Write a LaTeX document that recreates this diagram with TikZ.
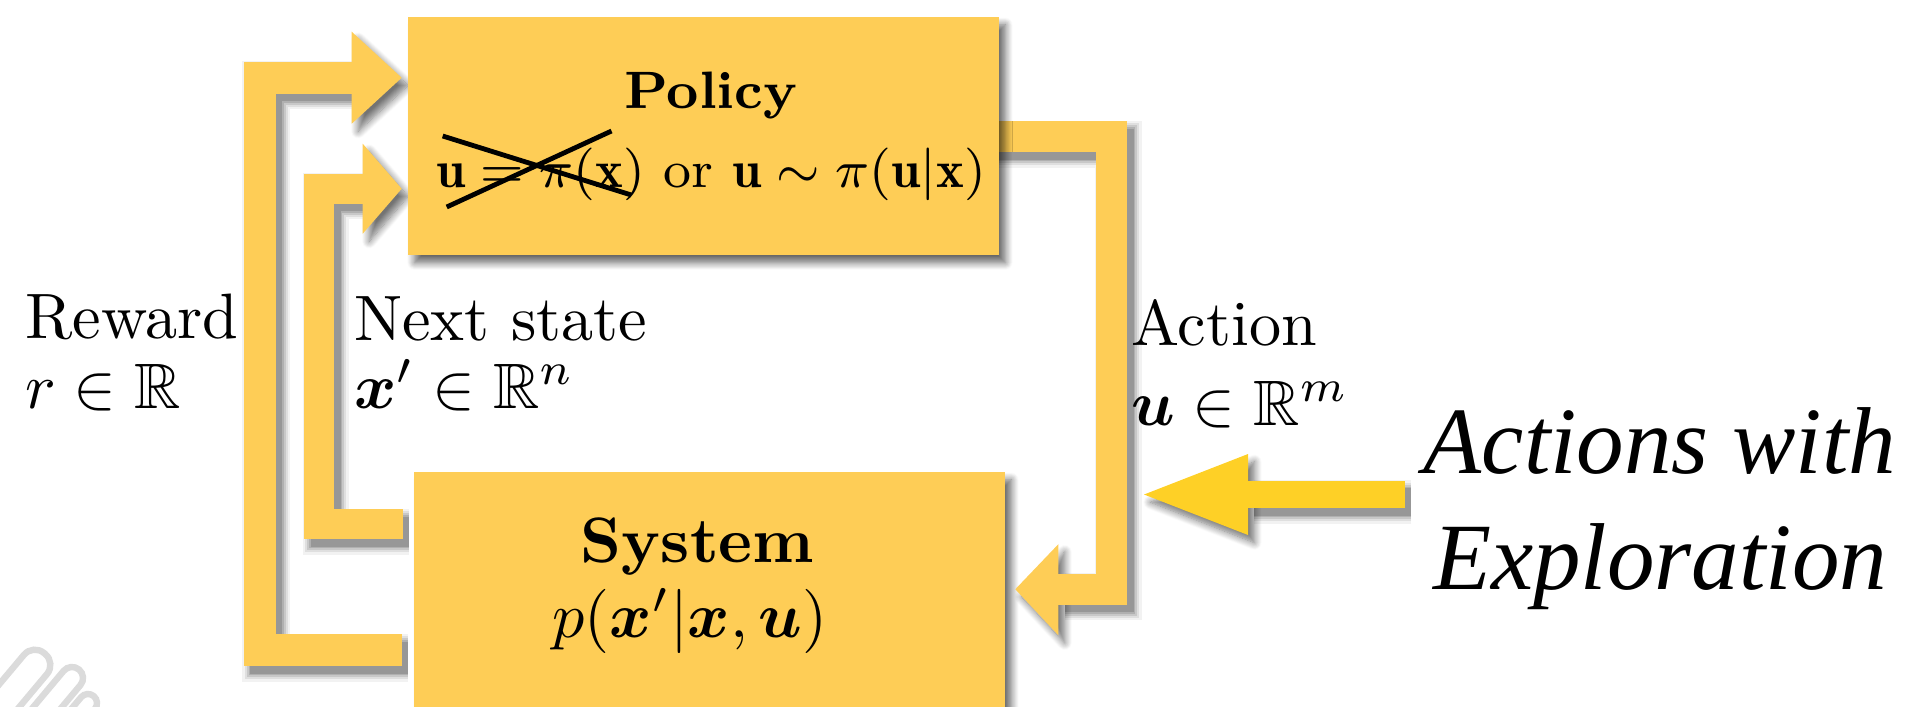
\documentclass[tikz,border=0pt]{standalone}
\usepackage{fix-cm}
\usepackage{amsmath,amssymb,bm}
\usepackage{fontspec}
\newfontfamily\expfont{Liberation Serif}
\usetikzlibrary{calc,shadows.blur}
\newlength\upx
\setlength\upx{0.1558pt}
\definecolor{boxy}{RGB}{254,205,86}
\definecolor{explo}{RGB}{254,208,38}
\newcommand\shadowstroke[2]{%
  \foreach \e/\o in {16/0.05,11/0.08,7/0.1,3/0.12,0/0.14}{%
    \draw[black, opacity=\o, line width={(#1+\e)*\upx}, line join=miter, line cap=butt,
      transform canvas={shift={(1pt,-1.2pt)}}] #2;}}
\tikzset{
  boxsh/.style={blur shadow={shadow xshift=1pt, shadow yshift=-1.2pt,
      shadow blur radius=1.1pt, shadow blur steps=10, shadow opacity=60}},
  blockbox/.style={fill=boxy, inner sep=0pt, boxsh},
  headsh/.style={blur shadow={shadow xshift=1pt, shadow yshift=-1.2pt,
      shadow blur radius=1.1pt, shadow blur steps=10, shadow opacity=55}},
  shaft/.style={draw=#1, line join=miter, line cap=butt},
  lbl/.style={inner sep=0pt, font=\fontsize{10}{12}\selectfont},
  ptxt/.style={inner sep=0pt, font=\fontsize{8.2}{10}\selectfont},
  expl/.style={inner sep=0pt, font=\expfont\itshape\fontsize{14.8}{17}\selectfont},
  crossline/.style={draw=black, line width=0.75pt},
  wm/.style={draw=black!14, line width=1pt},
}
\begin{document}
\begin{tikzpicture}[x=0.1558pt, y=-0.1558pt]
\useasboundingbox (0,0) rectangle (1907,706);
\clip (0,0) rectangle (1907,706);

% watermark fragment
\begin{scope}[shift={(35,665)}, rotate=-40]
  \draw[wm, rounded corners=2.2pt] (-15,-15) rectangle (15,90);
\end{scope}
\begin{scope}[shift={(72,678)}, rotate=-40]
  \draw[wm, rounded corners=1.7pt] (-11,-11) rectangle (11,70);
\end{scope}
\begin{scope}[shift={(88,703)}, rotate=-40]
  \draw[wm, rounded corners=1.4pt] (-9,-9) rectangle (9,40);
\end{scope}

% system box (drawn below the connectors)
\node[blockbox, minimum width=591\upx, minimum height=268\upx] (sys) at (709.5,606) {};

% connector coordinates
\coordinate (r0) at ($(sys.north west)+(-11,179.5)$);
\coordinate (r3) at ($(sys.north west)+(-61,-393)$);
\coordinate (n0) at ($(sys.north west)+(-10,53.5)$);
\coordinate (n3) at ($(sys.north west)+(-50,-282)$);
\coordinate (a0) at ($(sys.north east)+(-15,-334)$);
\coordinate (a3) at ($(sys.north east)+(52,118.5)$);
\coordinate (e0) at (1405,494.5);
\coordinate (e3) at (1248,494.5);

% shadows of connectors
\shadowstroke{32}{(r0) -- ++(-142,0) |- (r3)}
\shadowstroke{30}{(n0) -- ++(-83.5,0) |- (n3)}
\shadowstroke{31}{(a0) -- ++(120.5,0) |- (a3)}
\shadowstroke{27.5}{(e0) -- (e3)}
\path[headsh] ($(r3)+(0,-46)$) -- ($(r3)+(50,0)$) -- ($(r3)+(0,46)$) -- cycle;
\path[headsh] ($(n3)+(0,-45)$) -- ($(n3)+(39,0)$) -- ($(n3)+(0,45)$) -- cycle;
\path[headsh] ($(a3)+(0,-45)$) -- ($(a3)+(-43,0)$) -- ($(a3)+(0,46)$) -- cycle;
\path[headsh] ($(e3)+(0,-40.5)$) -- ($(e3)+(-104,0)$) -- ($(e3)+(0,40.5)$) -- cycle;

% connector bodies
\draw[shaft=boxy, line width=32\upx] (r0) -- ++(-142,0) |- (r3);
\draw[shaft=boxy, line width=30\upx] (n0) -- ++(-83.5,0) |- (n3);
\draw[shaft=boxy, line width=31\upx] (a0) -- ++(120.5,0) |- (a3);
\draw[shaft=explo, line width=27.5\upx] (e0) -- (e3);
\fill[boxy] ($(r3)+(0,-46)$) -- ($(r3)+(50,0)$) -- ($(r3)+(0,46)$) -- cycle;
\fill[boxy] ($(n3)+(0,-45)$) -- ($(n3)+(39,0)$) -- ($(n3)+(0,45)$) -- cycle;
\fill[boxy] ($(a3)+(0,-45)$) -- ($(a3)+(-43,0)$) -- ($(a3)+(0,46)$) -- cycle;
\fill[explo] ($(e3)+(0,-40.5)$) -- ($(e3)+(-104,0)$) -- ($(e3)+(0,40.5)$) -- cycle;

% policy box
\node[blockbox, minimum width=591\upx, minimum height=238\upx] (pol) at (703.5,136) {};

% box texts
\node[ptxt, anchor=base] (ptitle) at (711,108) {\textbf{Policy}};
\node[ptxt, anchor=base] (pform) at (711,187)
  {$\mathbf{u}=\pi(\mathbf{x})$ or $\mathbf{u}\sim\pi(\mathbf{u}|\mathbf{x})$};
\draw[crossline] (442.7,136) -- (631.3,195);
\draw[crossline] (446.7,207) -- (611.5,131);
\node[lbl, anchor=base] (stitle) at (697.5,562) {\textbf{System}};
\node[lbl, anchor=base] (sform) at (690,637) {$p(\bm{x}'|\bm{x},\bm{u})$};

% labels
\node[lbl, anchor=base west] (rew) at (24,338) {Reward};
\node[lbl, anchor=base west] (rewv) at (24,408) {$r\in\mathbb{R}$};
\node[lbl, anchor=base west] (nxt) at (353,340) {Next state};
\node[lbl, anchor=base west] (nxtv) at (353,408) {$\bm{x}'\in\mathbb{R}^n$};
\node[lbl, anchor=base west] (act) at (1130,345) {Action};
\node[lbl, anchor=base west] (actv) at (1130,425) {$\bm{u}\in\mathbb{R}^m$};
\node[expl, anchor=base] (ex1) at (1660,473) {Actions with};
\node[expl, anchor=base] (ex2) at (1660,589) {Exploration};
\end{tikzpicture}
\end{document}
